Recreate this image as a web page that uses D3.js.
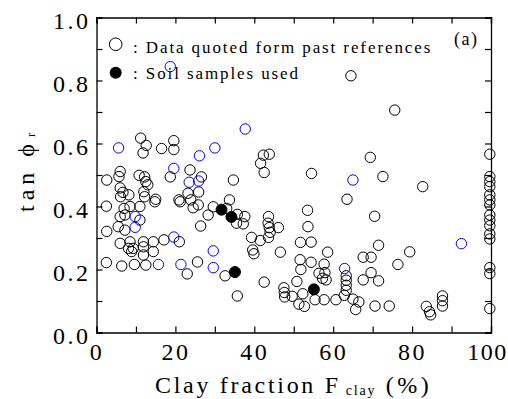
<!DOCTYPE html>
<html><head><meta charset="utf-8">
<script src="https://cdn.jsdelivr.net/npm/d3@7"></script>
<style>body{margin:0;background:#fff}svg{display:block}text{font-family:"Liberation Serif",serif}</style>
</head><body>
<script>
// ---- data ----
const xTicks = [0,20,40,60,80,100];
const yTicks = [0.0,0.2,0.4,0.6,0.8,1.0];
// quoted data (black open circles): [clay %, tan phi_r]
const quotedBlack = [
 [11.2,0.617],[12.6,0.594],[11.8,0.570],[16.5,0.584],[19.6,0.609],[19.6,0.581],
 [2.6,0.484],[6.0,0.511],[5.7,0.495],[10.8,0.499],[12.2,0.494],[12.5,0.479],[13.0,0.469],[18.7,0.494],
 [6.0,0.459],[6.7,0.445],[6.1,0.431],[8.2,0.437],[12.0,0.447],[12.2,0.431],[15.0,0.423],
 [2.5,0.401],[7.0,0.394],[8.5,0.400],[11.0,0.400],[14.8,0.415],
 [6.0,0.368],[7.2,0.373],[5.5,0.336],[7.2,0.325],[2.6,0.321],[11.0,0.357],
 [6.0,0.283],[8.5,0.288],[9.3,0.267],[8.9,0.257],[8.1,0.267],[11.9,0.288],[14.4,0.288],[11.9,0.246],[14.4,0.257],[11.9,0.272],[17.1,0.294],[21.0,0.288],
 [2.5,0.222],[6.4,0.211],[9.6,0.216],[12.5,0.214],
 [23.7,0.516],[26.6,0.494],[23.2,0.442],[25.9,0.446],[20.9,0.421],[23.9,0.421],[24.5,0.396],[25.8,0.405],[21.2,0.415],[29.6,0.399],[28.3,0.373],[26.4,0.338],
 [23.0,0.186],[25.6,0.224],
 [34.7,0.484],[33.7,0.421],[33.0,0.394],[35.7,0.375],[37.6,0.368],[37.2,0.345],[35.5,0.347],[32.6,0.180],[35.7,0.116],
 [42.3,0.563],[43.8,0.566],[41.6,0.537],[42.5,0.508],
 [43.6,0.368],[43.5,0.347],[43.8,0.333],[44.0,0.318],[43.6,0.302],[46.1,0.333],
 [39.3,0.302],[41.5,0.292],[39.6,0.262],[39.9,0.250],[46.6,0.255],[42.5,0.160],
 [54.5,0.505],[53.5,0.388],[53.6,0.336],[51.7,0.286],[54.4,0.287],[58.6,0.255],
 [51.6,0.231],[51.8,0.200],[54.4,0.223],[57.7,0.217],[56.4,0.188],[57.9,0.190],[57.3,0.172],[58.2,0.167],[50.8,0.162],
 [47.5,0.142],[47.6,0.127],[47.7,0.113],[49.6,0.115],[52.3,0.123],[51.3,0.090],[52.7,0.083],[55.4,0.104],[57.7,0.104],[60.7,0.104],
 [64.5,0.815],[63.5,0.423],[63.3,0.180],[63.3,0.166],[63.3,0.150],[63.3,0.134],[62.8,0.118],[65.0,0.106],[66.5,0.097],[65.7,0.073],
 [67.6,0.239],[69.6,0.239],[69.6,0.190],[67.6,0.167],[69.4,0.556],
 [75.6,0.706],[72.6,0.495],[70.5,0.369],[71.5,0.277],[71.5,0.164],[70.6,0.084],[74.2,0.084],[76.4,0.216],[79.4,0.256],[82.7,0.463],
 [83.6,0.083],[84.4,0.066],[84.7,0.056],[87.7,0.116],[87.7,0.101],[87.7,0.084],
 [99.7,0.566],[99.7,0.495],[99.7,0.479],[99.7,0.463],[99.7,0.437],[99.7,0.421],[99.7,0.405],[99.7,0.373],[99.7,0.357],[99.7,0.339],[99.7,0.313],[99.7,0.297],[99.7,0.206],[99.7,0.187],[99.7,0.076]
];
// quoted data (blue open circles)
const quotedBlue = [
 [18.7,0.844],[5.6,0.586],[26.1,0.561],[30.0,0.586],[37.7,0.646],[19.6,0.521],[23.5,0.477],[25.9,0.481],
 [9.8,0.368],[9.8,0.334],[19.6,0.303],[29.6,0.259],[15.7,0.216],[21.4,0.216],[29.6,0.206],
 [65.0,0.484],[62.9,0.203],[92.5,0.282]
];
// soil samples used (filled)
const samples = [[31.7,0.390],[34.2,0.367],[35.1,0.192],[55.1,0.137]];

// ---- chart ----
const W=508,H=399;
const svg=d3.select("body").append("svg").attr("width",W).attr("height",H);
const x=d3.scaleLinear().domain([0,100]).range([96.5,491]);
const y=d3.scaleLinear().domain([0,1]).range([332.5,17.5]);
const serif='"Liberation Serif", serif';

const minorX=d3.range(0,101,10), minorY=d3.range(0,1.001,0.1);
const fmtX=d=>xTicks.includes(d)?d:"";
const fmtY=d=>yTicks.some(t=>Math.abs(t-d)<1e-6)?d3.format(".1f")(d):"";

function styleAxis(g){g.attr("font-family",null);g.select(".domain").attr("stroke","#000").attr("stroke-width",1.3);
 g.selectAll(".tick line").attr("stroke","#000").attr("stroke-width",1.2);}

const gb=svg.append("g").attr("transform",`translate(0,${y(0)})`)
 .call(d3.axisBottom(x).tickValues(minorX).tickSize(-6).tickFormat(fmtX));
styleAxis(gb);
gb.selectAll("text").style("font-family",serif).attr("font-size",24).attr("fill","#000")
 .style("letter-spacing",d=>d===100?"1.5px":"2.5px").attr("dy",0).attr("y",27).attr("dx",d=>d===100?-4:0);

const gl=svg.append("g").attr("transform",`translate(${x(0)},0)`)
 .call(d3.axisLeft(y).tickValues(minorY).tickSize(-6).tickFormat(fmtY));
styleAxis(gl);
gl.selectAll("text").style("font-family",serif).attr("font-size",24).attr("fill","#000")
 .style("letter-spacing","2.5px").attr("x",-6).attr("dy",10.5);

const gt=svg.append("g").attr("transform",`translate(0,${y(1)})`)
 .call(d3.axisTop(x).tickValues(minorX).tickSize(-6).tickFormat(""));
styleAxis(gt);
const gr=svg.append("g").attr("transform",`translate(${x(100)},0)`)
 .call(d3.axisRight(y).tickValues(minorY).tickSize(-6).tickFormat(""));
styleAxis(gr);

// points
const R=5.2;
svg.append("g").selectAll("circle").data(quotedBlack).join("circle")
 .attr("cx",d=>x(d[0])).attr("cy",d=>y(d[1])).attr("r",R)
 .attr("fill","none").attr("stroke","#000").attr("stroke-width",1);
svg.append("g").selectAll("circle").data(quotedBlue).join("circle")
 .attr("cx",d=>x(d[0])).attr("cy",d=>y(d[1])).attr("r",R)
 .attr("fill","none").attr("stroke","#0000ff").attr("stroke-width",1);
svg.append("g").selectAll("circle").data(samples).join("circle")
 .attr("cx",d=>x(d[0])).attr("cy",d=>y(d[1])).attr("r",R+0.3)
 .attr("fill","#000").attr("stroke","#000").attr("stroke-width",1);

// legend
svg.append("circle").attr("cx",115.7).attr("cy",44.3).attr("r",6.3).attr("fill","none").attr("stroke","#000").attr("stroke-width",1);
svg.append("circle").attr("cx",115.7).attr("cy",72.7).attr("r",6).attr("fill","#000");
svg.append("text").attr("x",133).attr("y",53).style("font-family",serif).attr("font-size",17)
 .style("letter-spacing","1.9px").text(": Data quoted form past references");
svg.append("text").attr("x",133).attr("y",78.5).style("font-family",serif).attr("font-size",17)
 .style("letter-spacing","1.9px").text(": Soil samples used");
svg.append("text").attr("x",454).attr("y",45).style("font-family",serif).attr("font-size",18)
 .style("letter-spacing","1.5px").text("(a)");

// axis titles
const xt=svg.append("text").attr("x",155).attr("y",393).style("font-family",serif).attr("font-size",24).style("letter-spacing","2.7px");
xt.append("tspan").text("Clay fraction F");
xt.append("tspan").attr("font-size",14).style("letter-spacing","1.8px").attr("dx",5).attr("dy",2).text("clay");
xt.append("tspan").attr("dy",-2).style("letter-spacing","3.5px").text(" (%)");

const yt=svg.append("text").attr("transform","translate(34,212) rotate(-90)").style("font-family",serif).attr("font-size",24).style("letter-spacing","5px");
yt.append("tspan").text("tan ");
yt.append("tspan").text("ϕ");
yt.append("tspan").attr("font-size",13).attr("dy",1).attr("dx",2).text("r");
</script>
</body></html>
